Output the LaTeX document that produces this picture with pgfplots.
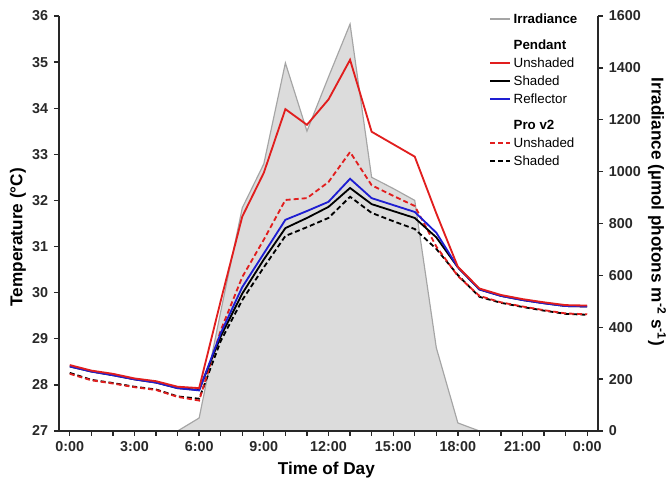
\documentclass[border=0pt]{standalone}
\usepackage{fontspec}
\setmainfont{Liberation Sans}
\usepackage{pgfplots}
\pgfplotsset{compat=1.18}

\definecolor{irrfill}{RGB}{220,220,220}
\definecolor{irredge}{RGB}{165,165,165}
\definecolor{tred}{RGB}{225,30,30}
\definecolor{tblue}{RGB}{30,30,210}
\definecolor{axcol}{RGB}{40,40,40}

% hour, temperature (degC)
\pgfplotstableread{
h  pu     ps     pr     vu     vs
0  28.43  28.40  28.40  28.24  28.26
1  28.31  28.29  28.29  28.10  28.11
2  28.24  28.21  28.21  28.03  28.04
3  28.14  28.12  28.12  27.95  27.96
4  28.08  28.05  28.05  27.89  27.90
5  27.96  27.93  27.93  27.74  27.75
6  27.93  27.89  27.88  27.66  27.70
7  29.82  29.05  29.12  29.18  28.95
8  31.65  29.98  30.12  30.34  29.84
9  32.60  30.72  30.85  31.15  30.55
10 33.98  31.40  31.58  32.01  31.23
11 33.64  31.62  31.77  32.05  31.42
12 34.19  31.86  31.97  32.40  31.62
13 35.05  32.27  32.47  33.05  32.08
14 33.49  31.92  32.05  32.33  31.73
15 33.22  31.77  31.90  32.10  31.55
16 32.95  31.62  31.75  31.88  31.38
17 31.72  31.20  31.30  31.00  30.95
18 30.56  30.55  30.55  30.36  30.38
19 30.09  30.07  30.07  29.93  29.91
20 29.95  29.93  29.93  29.79  29.78
21 29.86  29.84  29.84  29.70  29.69
22 29.79  29.77  29.77  29.62  29.61
23 29.73  29.71  29.71  29.55  29.54
24 29.72  29.70  29.70  29.53  29.52
}\temps

% hour, irradiance (umol photons m-2 s-1)
\pgfplotstableread{
h  irr
5  0
6  50
7  460
8  860
9  1030
10 1419
11 1156
12 1365
13 1569
14 978
15 935
16 889
17 321
18 31
19 0
}\irrad

\newcommand{\labfont}{\bfseries\fontsize{10.3}{12}\selectfont}

\pgfplotsset{
  common/.style={
    scale only axis, width=323.4pt, height=249pt,
    xmin=-0.5, xmax=24.5,
    tick align=outside,
    major tick length=3pt, minor tick length=3pt,
    tick style={line width=0.8pt, axcol},
    axis line style={-, line width=0.9pt, axcol},
    tick label style={font=\bfseries\fontsize{8.6}{10}\selectfont, text=axcol},
    /pgf/number format/assume math mode=true,
    /pgf/number format/1000 sep={},
  },
}

\begin{document}
\begin{tikzpicture}
% irradiance (right axis), drawn first so it stays behind the lines
\begin{axis}[common,
  axis x line=none, axis y line*=right,
  ymin=0, ymax=1600, ytick={0,200,...,1600},
  every axis y label/.style={at={(axis description cs:1.1095,0.528)}, anchor=center, rotate=-90, font=\labfont},
  ylabel={Irradiance (µmol photons m\textsuperscript{-2} s\textsuperscript{-1})},
]
\addplot[fill=irrfill, draw=irredge, line width=0.7pt] table[x=h, y=irr] {\irrad} \closedcycle;
\end{axis}

% temperature (left axis)
\begin{axis}[common, name=T,
  axis x line*=bottom, axis y line*=left,
  ymin=27, ymax=36, ytick={27,...,36},
  xtick={0,3,...,24},
  xticklabels={0:00,3:00,6:00,9:00,12:00,15:00,18:00,21:00,0:00},
  minor x tick num=2,
  every axis y label/.style={at={(axis description cs:-0.0761,0.467)}, anchor=center, rotate=90, font=\labfont},
  every axis x label/.style={at={(axis description cs:0.496,-0.094)}, anchor=center, font=\labfont},
  xlabel={Time of Day},
  ylabel={Temperature (°C)},
  legend cell align=left,
  legend style={draw=none, fill=none, inner sep=0pt,
    at={(rel axis cs:0.798,1.015)}, anchor=north west,
    font=\fontsize{8}{9.6}\selectfont, row sep=0pt, column sep=0.4pt,
    nodes={inner sep=1pt, text height=7pt, text depth=1.8pt}},
  legend image code/.code={\draw[#1] (0pt,0pt) -- (12pt,0pt);},
]
\addplot[black, line width=1.1pt, dash pattern=on 3pt off 1.8pt, forget plot] table[x=h, y=vs] {\temps};
\addplot[tred, line width=1.1pt, dash pattern=on 3pt off 1.8pt, forget plot] table[x=h, y=vu] {\temps};
\addplot[black, line width=1.1pt, forget plot] table[x=h, y=ps] {\temps};
\addplot[tblue, line width=1.1pt, forget plot] table[x=h, y=pr] {\temps};
\addplot[tred, line width=1.1pt, forget plot] table[x=h, y=pu] {\temps};

\addlegendimage{irredge, line width=1.1pt}
\addlegendentry{\textbf{Irradiance}}
\addlegendimage{empty legend}
\addlegendentry[text height=11.8pt]{\textbf{Pendant}}
\addlegendimage{tred, line width=1.1pt}
\addlegendentry{Unshaded}
\addlegendimage{black, line width=1.1pt}
\addlegendentry{Shaded}
\addlegendimage{tblue, line width=1.1pt}
\addlegendentry{Reflector}
\addlegendimage{empty legend}
\addlegendentry[text height=11.8pt]{\textbf{Pro v2}}
\addlegendimage{tred, line width=1.1pt, dash pattern=on 3pt off 1.8pt}
\addlegendentry{Unshaded}
\addlegendimage{black, line width=1.1pt, dash pattern=on 3pt off 1.8pt}
\addlegendentry{Shaded}
\end{axis}

\pgfresetboundingbox
\path[use as bounding box] ([shift={(-35.4pt,-28.2pt)}]T.south west) rectangle ([shift={(42pt,9.6pt)}]T.north east);
\end{tikzpicture}
\end{document}
